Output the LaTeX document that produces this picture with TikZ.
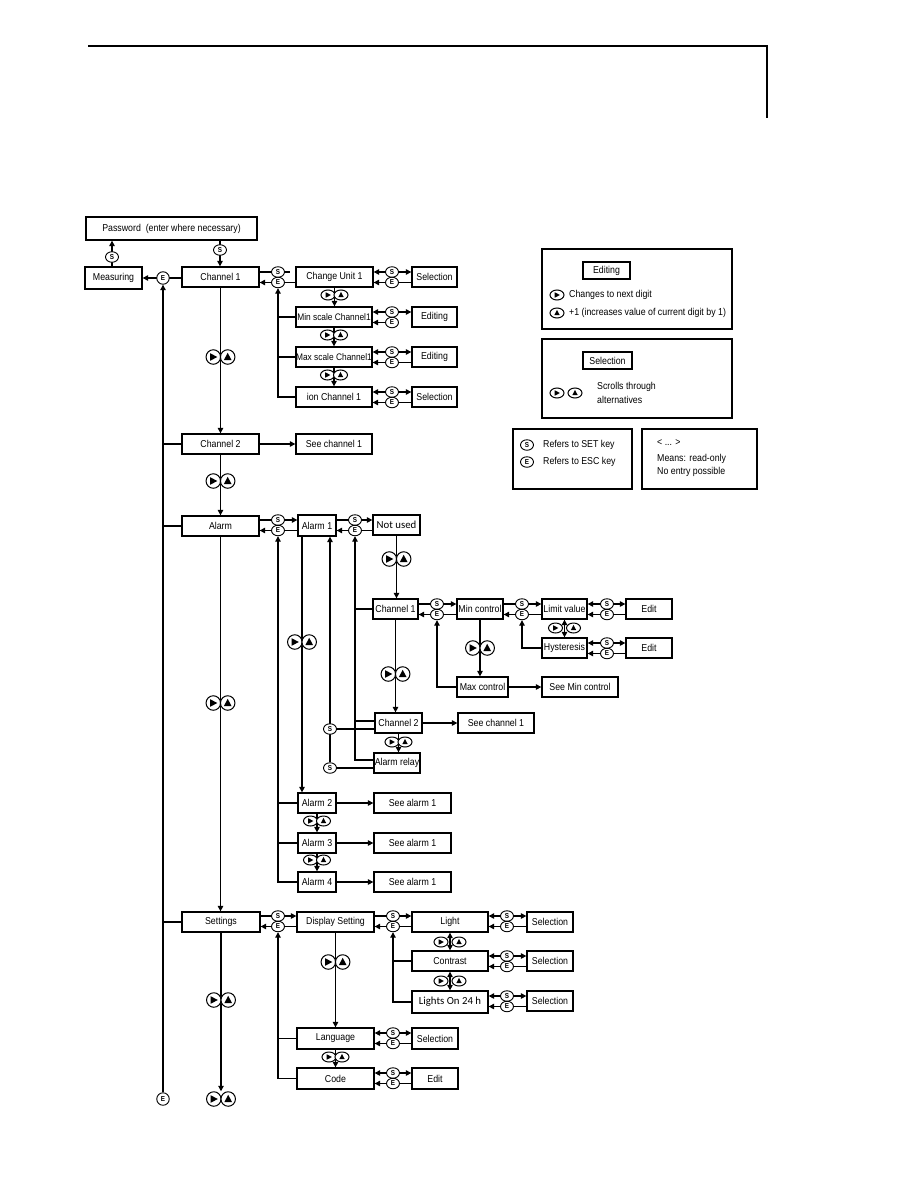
\documentclass[tikz,border=0pt]{standalone}
\usepackage{fontspec}
\setmainfont{Liberation Sans}[FakeStretch=0.88]
\newfontfamily\calfont{Carlito}
\usetikzlibrary{shapes.geometric,arrows.meta,calc}
\pgfdeclarelayer{bg}
\pgfsetlayers{bg,main}

\tikzset{
 box/.style={draw, line width=1.3pt, inner sep=0pt, font=\fontsize{10}{11}\selectfont},
 key/.style={ellipse, draw, fill=white, line width=0.9pt, minimum width=13pt, minimum height=10.5pt, inner sep=0pt, font=\bfseries\fontsize{7.2}{7}\selectfont},
 navc/.style={circle, draw, fill=white, line width=1pt, minimum size=14.5pt, inner sep=0pt},
 navs/.style={ellipse, draw, fill=white, line width=1pt, minimum width=14pt, minimum height=10pt, inner sep=0pt},
 conn/.style={line width=1.1pt},
 arr/.style={conn, -{Triangle[length=5.5pt,width=5.5pt]}},
 arrb/.style={conn, {Triangle[length=5.5pt,width=5.5pt]}-{Triangle[length=5.5pt,width=5.5pt]}},
 legtext/.style={anchor=west, inner sep=0pt, font=\fontsize{10}{11}\selectfont},
}

\newcommand\mkbox[7][]{\node[box,minimum width={(#5-#3)*1pt},minimum height={(#6-#4)*1pt},#1] (#2) at ({(#3+#5)/2},{(#4+#6)/2}) {#7};}
\newcommand\keypair[3]{\node[key] (#1s) at (#2,#3) {S};\node[key] (#1e) at (#2,#3+10.5) {E};}
\newcommand\mytri[2][1]{\fill ($(#2)+(-3.2*#1,-3.8*#1)$) -- ++(0,7.6*#1) -- ++(7.2*#1,-3.8*#1) -- cycle;}
\newcommand\myup[2][1]{\fill ($(#2)+(-3.8*#1,3.0*#1)$) -- ++(7.6*#1,0) -- ++(-3.8*#1,-7.2*#1) -- cycle;}
\newcommand\navbig[3]{\node[navc] (#1a) at (#2-7.2,#3) {};\node[navc] (#1b) at (#2+7.2,#3) {};\mytri{#1a}\myup{#1b}}
\newcommand\navsml[3]{\node[navs] (#1a) at (#2-6.5,#3) {};\node[navs] (#1b) at (#2+6.5,#3) {};\mytri[0.72]{#1a}\myup[0.72]{#1b}}
\newcommand\navgap[3]{\node[navs] (#1a) at (#2-9,#3) {};\node[navs] (#1b) at (#2+9,#3) {};\mytri[0.72]{#1a}\myup[0.72]{#1b}}

\begin{document}
\begin{tikzpicture}[x=1pt,y=-1pt]
\useasboundingbox (0,0) rectangle (918,1188);

% header rule
\coordinate (h1) at (88,46); \coordinate (h2) at (767,46); \coordinate (h3) at (767,118);
\draw[line width=1.1pt] (h1) -- (h2) -- (h3);

% ---------- boxes ----------
\mkbox{pw}{86}{217}{257}{240}{Password\ \ (enter where necessary)}
\mkbox{meas}{85}{267}{142}{289}{Measuring}
\mkbox{ch1}{182}{267}{259}{287}{Channel 1}
\mkbox{cu1}{296}{267}{373}{287}{Change Unit 1}
\mkbox{sel1}{412}{267}{457}{287}{Selection}
\mkbox[font=\fontsize{9.5}{10}\selectfont]{mins}{296}{307}{372}{327}{Min scale Channel1}
\mkbox{ed1}{412}{307}{457}{327}{Editing}
\mkbox[font=\fontsize{9.5}{10}\selectfont]{maxs}{296}{347}{372}{367}{Max scale Channel1}
\mkbox{ed2}{412}{347}{457}{367}{Editing}
\mkbox{ion}{296}{387}{372}{407}{ion Channel 1}
\mkbox{sel2}{412}{387}{457}{407}{Selection}
\mkbox{ch2}{182}{434}{259}{454}{Channel 2}
\mkbox{see1}{296}{434}{372}{454}{See channel 1}
\mkbox{alarm}{182}{516}{259}{536}{Alarm}
\mkbox{al1}{298}{515}{336}{536}{Alarm 1}
\mkbox[font=\calfont\fontsize{10.8}{12}\selectfont]{nu}{373}{515}{420}{535}{Not used}
\mkbox{ach1}{373}{599}{418}{619}{Channel 1}
\mkbox{minc}{457}{599}{503}{619}{Min control}
\mkbox{maxc}{457}{677}{508}{697}{Max control}
\mkbox{seemin}{542}{677}{618}{697}{See Min control}
\mkbox{lim}{542}{599}{587}{619}{Limit value}
\mkbox{hys}{542}{638}{587}{658}{Hysteresis}
\mkbox{edit1}{626}{599}{672}{619}{Edit}
\mkbox{edit2}{626}{638}{672}{658}{Edit}
\mkbox{ach2}{375}{713}{422}{733}{Channel 2}
\mkbox{seech1b}{458}{713}{534}{733}{See channel 1}
\mkbox{arel}{374}{753}{420}{773}{Alarm relay}
\mkbox{al2}{298}{793}{336}{813}{Alarm 2}
\mkbox{sa2}{374}{793}{451}{813}{See alarm 1}
\mkbox{al3}{298}{833}{336}{853}{Alarm 3}
\mkbox{sa3}{374}{833}{451}{853}{See alarm 1}
\mkbox{al4}{298}{872}{336}{892}{Alarm 4}
\mkbox{sa4}{374}{872}{451}{892}{See alarm 1}
\mkbox{set}{182}{912}{260}{932}{Settings}
\mkbox{disp}{297}{912}{374}{932}{Display Setting}
\mkbox{light}{412}{912}{488}{932}{Light}
\mkbox{sel3}{527}{912}{573}{932}{Selection}
\mkbox{contr}{412}{951}{488}{971}{Contrast}
\mkbox{sel4}{527}{951}{573}{971}{Selection}
\mkbox[font=\calfont\fontsize{10.8}{12}\selectfont]{l24}{412}{991}{488}{1013}{Lights On 24 h}
\mkbox{sel5}{527}{991}{573}{1011}{Selection}
\mkbox{lang}{297}{1028}{374}{1049}{Language}
\mkbox{sel6}{412}{1028}{458}{1049}{Selection}
\mkbox{code}{297}{1068}{374}{1089}{Code}
\mkbox{edit3}{412}{1068}{458}{1089}{Edit}

% ---------- keys ----------
\node[key] (kS1) at (112,257) {S};
\node[key] (kS2) at (220,250) {S};
\node[key, minimum width=12.5pt, minimum height=12.5pt] (kE1) at (163,278) {E};
\node[key, minimum width=12.5pt, minimum height=12.5pt] (kEb) at (163,1099) {E};
\keypair{ka}{278}{272}
\keypair{kb}{392}{272}
\keypair{kc}{392}{312}
\keypair{kd}{392}{352}
\keypair{kf}{392}{392}
\keypair{kg}{278}{520}
\keypair{kh}{355}{520}
\keypair{ki}{437}{604}
\keypair{kj}{522}{604}
\keypair{kk}{607}{604}
\keypair{kl}{607}{643}
\node[key] (kSa) at (330,729) {S};
\node[key] (kSb) at (330,768) {S};
\keypair{km}{278}{916}
\keypair{kn}{393}{916}
\keypair{ko}{507}{916}
\keypair{kq}{507}{956}
\keypair{kr}{507}{996}
\keypair{kt}{393}{1033}
\keypair{ku}{393}{1073}

% ---------- navigation key pairs ----------
\navbig{na}{220.5}{357}
\navbig{nb}{220.5}{481}
\navbig{nc}{220.5}{703}
\navbig{nd}{221}{1000}
\navbig{ne}{221}{1099}
\navsml{nf}{334.5}{295}
\navsml{ng}{334}{335}
\navsml{nh}{334}{375}
\navbig{ni}{396.5}{559}
\navbig{nj}{302}{642}
\navbig{nk}{480}{648}
\navgap{nl}{564.5}{628}
\navbig{nm}{395.5}{674}
\navsml{nn}{398.5}{742}
\navsml{no}{317}{821}
\navsml{np}{317}{860}
\navbig{nq}{335.5}{962}
\navgap{nr}{450}{942}
\navgap{ns}{450}{981}
\navsml{nt}{335.5}{1057}

% ---------- legend ----------
\mkbox{legE}{542}{249}{732}{329}{}
\mkbox{legEi}{583}{262}{630}{279}{Editing}
\node[navs] (lg1) at (557,295) {}; \mytri[0.72]{lg1}
\node[legtext] (lt1) at (569,295) {Changes to next digit};
\node[navs] (lg2) at (557,313) {}; \myup[0.72]{lg2}
\node[legtext] (lt2) at (569,313) {+1 (increases value of current digit by 1)};
\mkbox{legS}{542}{339}{732}{418}{}
\mkbox{legSi}{583}{352}{632}{369}{Selection}
\node[navs] (lg3) at (557,393) {}; \mytri[0.72]{lg3}
\node[navs] (lg4) at (575,393) {}; \myup[0.72]{lg4}
\node[legtext] (lt3) at (597,387) {Scrolls through};
\node[legtext] (lt4) at (597,400) {alternatives};
\mkbox{legK}{513}{429}{632}{489}{}
\node[key] (lg5) at (527,445) {S};
\node[legtext] (lt5) at (543,445) {Refers to SET key};
\node[key] (lg6) at (527,462) {E};
\node[legtext] (lt6) at (543,462) {Refers to ESC key};
\mkbox{legR}{642}{429}{757}{489}{}
\node[legtext] (lt7) at (657,443) {< ... >};
\node[legtext] (lt8) at (657,459) {Means: read-only};
\node[legtext] (lt9) at (657,472) {No entry possible};

% ---------- connectors ----------
\begin{pgfonlayer}{bg}
\draw[arr] (kS1 |- meas.north) -- (kS1 |- pw.south);
\draw[arr] (kS2 |- pw.south) -- (kS2 |- ch1.north);
\draw[arr] (ch1.west |- kE1) -- (meas.east |- kE1);
\draw[arr] (kEb) -- (kE1.south);
\draw[conn] (kE1 |- ch2.west) -- (ch2.west);
\draw[conn] (kE1 |- alarm.west) -- (alarm.west);
\draw[conn] (kE1 |- set.west) -- (set.west);
\draw[arr] (ch1.south) -- (ch1.south |- ch2.north);
\draw[arr] (ch2.east) -- (see1.west);
\draw[arr] (ch2.south) -- (ch2.south |- alarm.north);
\draw[arr] (alarm.south) -- (alarm.south |- set.north);
\draw[arr] (set.south) -- (set.south |- nea.north);
% channel 1 sub menu
\draw[conn] (ch1.east |- kas) -- ($(cu1.west |- kas)+(-5,0)$);
\draw[arr] (cu1.west |- kae) -- (ch1.east |- kae);
\draw[arr] (ion.west) -| (kae.south);
\draw[conn] (kae |- mins.west) -- (mins.west);
\draw[conn] (kae |- maxs.west) -- (maxs.west);
\draw[arr] (cu1.south) -- (cu1.south |- mins.north);
\draw[arr] (mins.south) -- (mins.south |- maxs.north);
\draw[arr] (maxs.south) -- (maxs.south |- ion.north);
\draw[arrb] (cu1.east |- kbs) -- (sel1.west |- kbs);
\draw[arr] (sel1.west |- kbe) -- (cu1.east |- kbe);
\draw[arrb] (mins.east |- kcs) -- (ed1.west |- kcs);
\draw[arr] (kce) -- (mins.east |- kce);
\draw[arrb] (maxs.east |- kds) -- (ed2.west |- kds);
\draw[arr] (ed2.west |- kde) -- (maxs.east |- kde);
\draw[arrb] (ion.east |- kfs) -- (sel2.west |- kfs);
\draw[arr] (sel2.west |- kfe) -- (ion.east |- kfe);
% alarm
\draw[arr] (alarm.east |- kgs) -- (al1.west |- kgs);
\draw[arr] (al1.west |- kge) -- (alarm.east |- kge);
\draw[arr] (al4.west) -| (kge.south);
\draw[conn] (kge |- al2.west) -- (al2.west);
\draw[conn] (kge |- al3.west) -- (al3.west);
\draw[arr] (al1.east |- khs) -- (nu.west |- khs);
\draw[arr] (nu.west |- khe) -- (al1.east |- khe);
\coordinate (xa) at (302,0);
\draw[arr] (xa |- al1.south) -- (xa |- al2.north);
\draw[arr] (kSb) -- (kSb |- al1.south);
\draw[conn] (kSa) -- (ach2.west |- kSa);
\draw[conn] (kSb) -- (arel.west |- kSb);
\draw[arr] ($(arel.west)+(0,-3)$) -| (khe.south);
\draw[conn] (khe |- ach1.west) -- (ach1.west);
\draw[conn] ($(khe |- ach2.west)+(0,-2)$) -- ($(ach2.west)+(0,-2)$);
\draw[arr] (nu.south) -- (nu.south |- ach1.north);
\draw[arr] (ach1.east |- kis) -- (minc.west |- kis);
\draw[arr] (minc.west |- kie) -- (ach1.east |- kie);
\draw[arr] (maxc.west) -| (kie.south);
\draw[arr] (minc.south) -- (minc.south |- maxc.north);
\draw[arr] (maxc.east) -- (seemin.west);
\draw[arr] (minc.east |- kjs) -- (lim.west |- kjs);
\draw[arr] (lim.west |- kje) -- (minc.east |- kje);
\draw[arr] (hys.west) -| (kje.south);
\draw[arrb] (lim.south) -- (lim.south |- hys.north);
\draw[arrb] (lim.east |- kks) -- (edit1.west |- kks);
\draw[arr] (edit1.west |- kke) -- (lim.east |- kke);
\draw[arrb] (hys.east |- kls) -- (edit2.west |- kls);
\draw[arr] (edit2.west |- kle) -- (hys.east |- kle);
\draw[arr] (ach1.south) -- (ach1.south |- ach2.north);
\draw[arr] (ach2.east) -- (seech1b.west);
\draw[arr] (ach2.south) -- (ach2.south |- arel.north);
\draw[arr] (al2.east) -- (sa2.west);
\draw[arr] (al3.east) -- (sa3.west);
\draw[arr] (al4.east) -- (sa4.west);
\draw[arr] (al2.south) -- (al3.north);
\draw[arr] (al3.south) -- (al4.north);
% settings
\draw[arr] (set.east |- kms) -- (disp.west |- kms);
\draw[arr] (disp.west |- kme) -- (set.east |- kme);
\draw[arr] (code.west) -| (kme.south);
\draw[conn] (kme |- lang.west) -- (lang.west);
\draw[arr] (disp.east |- kns) -- (light.west |- kns);
\draw[arr] (light.west |- kne) -- (disp.east |- kne);
\draw[arr] (l24.west) -| (kne.south);
\draw[conn] (kne |- contr.west) -- (contr.west);
\draw[arrb] (light.east |- kos) -- (sel3.west |- kos);
\draw[arr] (sel3.west |- koe) -- (light.east |- koe);
\draw[arrb] (contr.east |- kqs) -- (sel4.west |- kqs);
\draw[arr] (sel4.west |- kqe) -- (contr.east |- kqe);
\draw[arrb] (l24.east |- krs) -- (sel5.west |- krs);
\draw[arr] (sel5.west |- kre) -- (l24.east |- kre);
\draw[arrb] (light.south) -- (light.south |- contr.north);
\draw[arrb] (contr.south) -- (contr.south |- l24.north);
\draw[arr] (disp.south) -- (disp.south |- lang.north);
\draw[arr] (lang.south) -- (lang.south |- code.north);
\draw[arrb] (lang.east |- kts) -- (sel6.west |- kts);
\draw[arr] (sel6.west |- kte) -- (lang.east |- kte);
\draw[arrb] (code.east |- kus) -- (edit3.west |- kus);
\draw[arr] (edit3.west |- kue) -- (code.east |- kue);
\end{pgfonlayer}
\end{tikzpicture}
\end{document}
